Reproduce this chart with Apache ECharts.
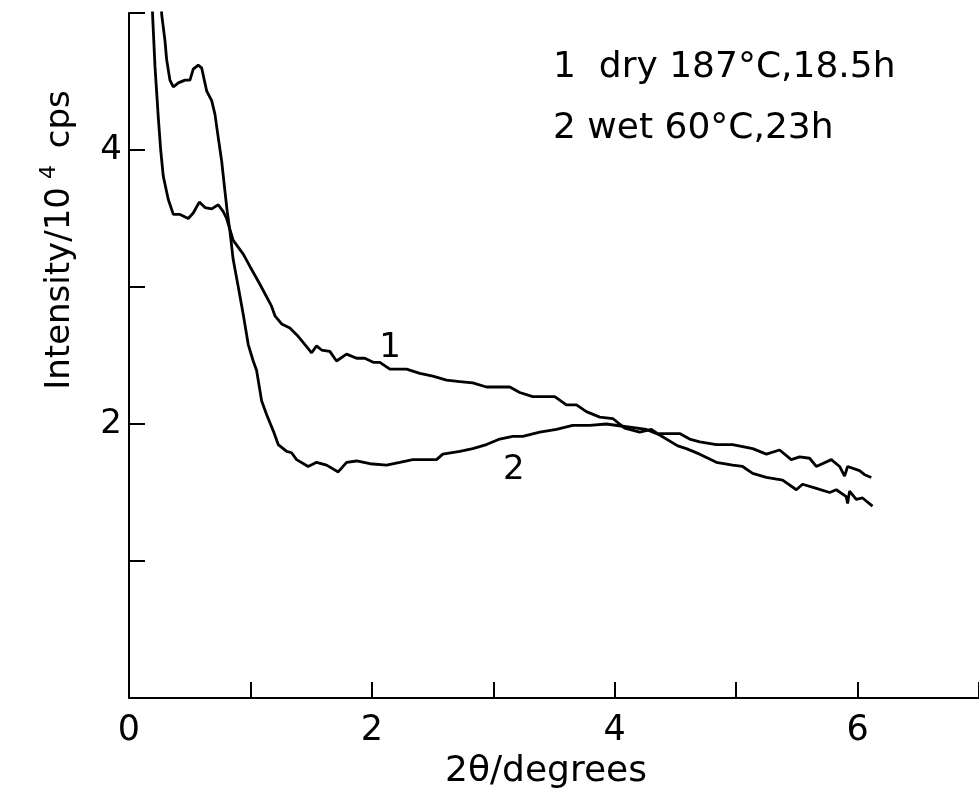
<!DOCTYPE html>
<html>
<head>
<meta charset="utf-8">
<script src="https://cdn.jsdelivr.net/npm/echarts@6/dist/echarts.min.js"></script>
<style>html,body{margin:0;padding:0;background:#fff;}#c{width:979px;height:794px;}</style>
</head>
<body>
<div id="c"></div>
<script>
// 2θ (degrees) and intensity (10^4 cps)
var dryX = [0.185,0.195,0.214,0.241,0.261,0.282,0.323,0.365,0.420,0.488,0.529,0.579,0.626,0.681,0.735,0.776,0.804,0.858,0.941,0.996,1.078,1.174,1.202,1.257,1.325,1.393,1.449,1.504,1.545,1.586,1.654,1.709,1.792,1.874,1.942,2.011,2.066,2.148,2.286,2.395,2.502,2.615,2.724,2.831,2.944,3.136,3.218,3.325,3.506,3.602,3.685,3.767,3.877,3.984,4.082,4.206,4.302,4.354,4.535,4.617,4.700,4.837,4.971,5.136,5.249,5.358,5.454,5.523,5.605,5.660,5.784,5.852,5.893,5.918,6.016,6.058,6.113];
var dryY = [5.20,4.97,4.61,4.24,4.00,3.81,3.64,3.53,3.53,3.50,3.54,3.62,3.58,3.57,3.60,3.55,3.50,3.34,3.24,3.15,3.02,2.86,2.79,2.73,2.70,2.64,2.58,2.52,2.57,2.54,2.53,2.46,2.51,2.48,2.48,2.45,2.45,2.40,2.40,2.37,2.35,2.32,2.31,2.30,2.27,2.27,2.23,2.20,2.20,2.14,2.14,2.09,2.05,2.04,1.97,1.94,1.96,1.93,1.93,1.89,1.87,1.85,1.85,1.82,1.78,1.81,1.74,1.76,1.75,1.69,1.74,1.69,1.62,1.69,1.66,1.63,1.61];
var wetX = [0.262,0.269,0.296,0.310,0.337,0.365,0.406,0.461,0.502,0.529,0.570,0.598,0.640,0.681,0.708,0.735,0.763,0.790,0.809,0.831,0.858,0.900,0.941,0.982,1.023,1.051,1.092,1.133,1.188,1.229,1.298,1.339,1.380,1.476,1.545,1.627,1.723,1.792,1.874,1.984,2.121,2.230,2.337,2.533,2.584,2.724,2.831,2.944,3.053,3.160,3.243,3.383,3.520,3.654,3.794,3.932,4.096,4.261,4.370,4.519,4.590,4.700,4.837,4.971,5.053,5.136,5.249,5.383,5.496,5.547,5.660,5.770,5.825,5.907,5.918,5.934,5.989,6.041,6.123];
var wetY = [5.20,4.99,4.80,4.66,4.51,4.46,4.49,4.51,4.51,4.59,4.62,4.60,4.43,4.36,4.26,4.09,3.92,3.70,3.55,3.41,3.20,3.00,2.80,2.58,2.46,2.39,2.17,2.07,1.95,1.85,1.80,1.79,1.74,1.69,1.72,1.70,1.65,1.72,1.73,1.71,1.70,1.72,1.74,1.74,1.78,1.80,1.82,1.85,1.89,1.91,1.91,1.94,1.96,1.99,1.99,2.00,1.98,1.96,1.92,1.84,1.82,1.78,1.72,1.70,1.69,1.64,1.61,1.59,1.52,1.56,1.53,1.50,1.52,1.47,1.42,1.51,1.45,1.46,1.40];
var xTickLabels = ['0','2','4','6'];
var yTickLabels = ['2','4'];
var curveLabels = ['1','2'];
var curveLabelPos = [[2.15,2.55],[3.17,1.66]];
var legendLines = ['1  dry 187°C,18.5h','2 wet 60°C,23h'];

var FONT = "'DejaVu Sans','Liberation Sans',Arial,sans-serif";
function zip(a,b){return a.map(function(v,i){return [v,b[i]];});}

var chart = echarts.init(document.getElementById('c'), null, {renderer:'canvas'});
var lineStyle = {color:'#000', width:2.8};
chart.setOption({
  animation:false,
  backgroundColor:'#fff',
  grid:{left:129, right:0, top:13, bottom:96, containLabel:false, outerBoundsMode:'none'},
  xAxis:{
    type:'value', min:0, max:7, interval:1,
    axisLine:{lineStyle:{color:'#000', width:2}},
    axisTick:{inside:true, length:16, lineStyle:{color:'#000', width:2}},
    splitLine:{show:false},
    axisLabel:{margin:15, color:'#000', fontFamily:FONT, fontSize:35,
      formatter:function(v){var s=String(v);return xTickLabels.indexOf(s)>=0?s:'';}},
    name:'2θ/degrees', nameLocation:'middle', nameGap:56,
    nameTextStyle:{color:'#000', fontFamily:FONT, fontSize:36, padding:[0,16,0,0]}
  },
  yAxis:{
    type:'value', min:0, max:5, interval:1,
    axisLine:{lineStyle:{color:'#000', width:2}},
    axisTick:{inside:true, length:16, lineStyle:{color:'#000', width:2}},
    splitLine:{show:false},
    axisLabel:{margin:7, color:'#000', fontFamily:FONT, fontSize:34,
      formatter:function(v){var s=String(v);return yTickLabels.indexOf(s)>=0?s:'';}}
  },
  graphic:[
    {type:'text', x:60, y:240, rotation:Math.PI/2, style:{
      text:'{a|Intensity/10}{s|4}{a| cps}', textAlign:'center', textVerticalAlign:'middle',
      rich:{a:{fontFamily:FONT, fontSize:34, fill:'#000'}, s:{fontFamily:FONT, fontSize:22, fill:'#000', padding:[0,6,22,8]}}}},
    {type:'text', x:553, y:68, style:{text:legendLines[0], fontFamily:FONT, fontSize:36, fill:'#000', textVerticalAlign:'middle'}},
    {type:'text', x:553, y:129, style:{text:legendLines[1], fontFamily:FONT, fontSize:36, fill:'#000', textVerticalAlign:'middle'}}
  ],
  series:[
    {type:'line', name:'dry', data:zip(dryX,dryY), showSymbol:false, symbol:'none', smooth:false, clip:true, lineStyle:lineStyle,
     markPoint:{symbol:'circle', symbolSize:1, itemStyle:{color:'transparent'},
       label:{show:true, position:'inside', color:'#000', fontFamily:FONT, fontSize:34, formatter:curveLabels[0]},
       data:[{coord:curveLabelPos[0]}]}},
    {type:'line', name:'wet', data:zip(wetX,wetY), showSymbol:false, symbol:'none', smooth:false, clip:true, lineStyle:lineStyle,
     markPoint:{symbol:'circle', symbolSize:1, itemStyle:{color:'transparent'},
       label:{show:true, position:'inside', color:'#000', fontFamily:FONT, fontSize:34, formatter:curveLabels[1]},
       data:[{coord:curveLabelPos[1]}]}}
  ]
});
</script>
</body>
</html>
